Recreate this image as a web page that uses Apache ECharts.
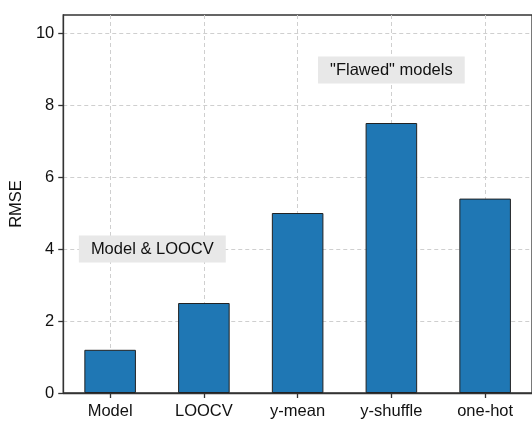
<!DOCTYPE html>
<html><head><meta charset="utf-8">
<script src="https://cdn.jsdelivr.net/npm/echarts@6/dist/echarts.min.js"></script>
<style>html,body{margin:0;padding:0;background:#fff}#c{width:532px;height:426px}</style>
</head><body><div id="c"></div>
<script>
const categories = ['Model', 'LOOCV', 'y-mean', 'y-shuffle', 'one-hot'];
const rmse = [1.2, 2.5, 5.0, 7.5, 5.4];
const yTicks = [0, 2, 4, 6, 8, 10];
const notes = ['Model & LOOCV', '"Flawed" models'];

const font = '"Liberation Sans", Arial, sans-serif';
const chart = echarts.init(document.getElementById('c'), null, {renderer: 'canvas'});
chart.setOption({
  animation: false,
  backgroundColor: '#fff',
  grid: {left: 62, top: 15, width: 473, bottom: 33, show: true, borderColor: '#333', borderWidth: 1.3, backgroundColor: 'transparent'},
  xAxis: {
    type: 'category', data: categories,
    axisLine: {lineStyle: {color: '#333', width: 1.3}},
    axisTick: {show: true, alignWithLabel: true, length: 5, lineStyle: {color: '#333', width: 1.3}},
    axisLabel: {color: '#111', fontSize: 16.5, fontFamily: font, margin: 10},
    splitLine: {show: true, alignWithLabel: true, lineStyle: {color: '#cfcfcf', type: [4, 3], width: 1}}
  },
  yAxis: {
    type: 'value', min: 0, max: 10.5, interval: 2,
    name: 'RMSE', nameLocation: 'middle', nameGap: 37,
    nameTextStyle: {color: '#111', fontSize: 16.5, fontFamily: font},
    axisLine: {show: true, lineStyle: {color: '#333', width: 1.3}},
    axisTick: {show: true, length: 5, customValues: yTicks, lineStyle: {color: '#333', width: 1.3}},
    axisLabel: {color: '#111', fontSize: 16.5, fontFamily: font, margin: 9, customValues: yTicks},
    splitLine: {show: true, lineStyle: {color: '#cfcfcf', type: [4, 3], width: 1}}
  },
  series: [{
    type: 'bar', data: rmse, barCategoryGap: '45%',
    itemStyle: {color: '#1f77b4', borderColor: '#222', borderWidth: 1}
  }]
});

function addNotes() {
  const p1 = chart.convertToPixel({xAxisIndex: 0, yAxisIndex: 0}, [0, 4]);
  const p1b = chart.convertToPixel({xAxisIndex: 0, yAxisIndex: 0}, [1, 4]);
  const p2 = chart.convertToPixel({xAxisIndex: 0, yAxisIndex: 0}, [3, 9]);
  const mk = (x, y, t) => ({
    type: 'text', x: x, y: y, z: 100,
    style: {text: t, fill: '#111', font: '16.5px ' + font, align: 'center', verticalAlign: 'middle',
      backgroundColor: '#e8e8e8', padding: [5, 12, 5, 12]}
  });
  chart.setOption({graphic: [
    mk((p1[0] * 0.55 + p1b[0] * 0.45), p1[1], notes[0]),
    mk(p2[0], p2[1] + 1, notes[1])
  ]});
}
addNotes();
</script></body></html>
